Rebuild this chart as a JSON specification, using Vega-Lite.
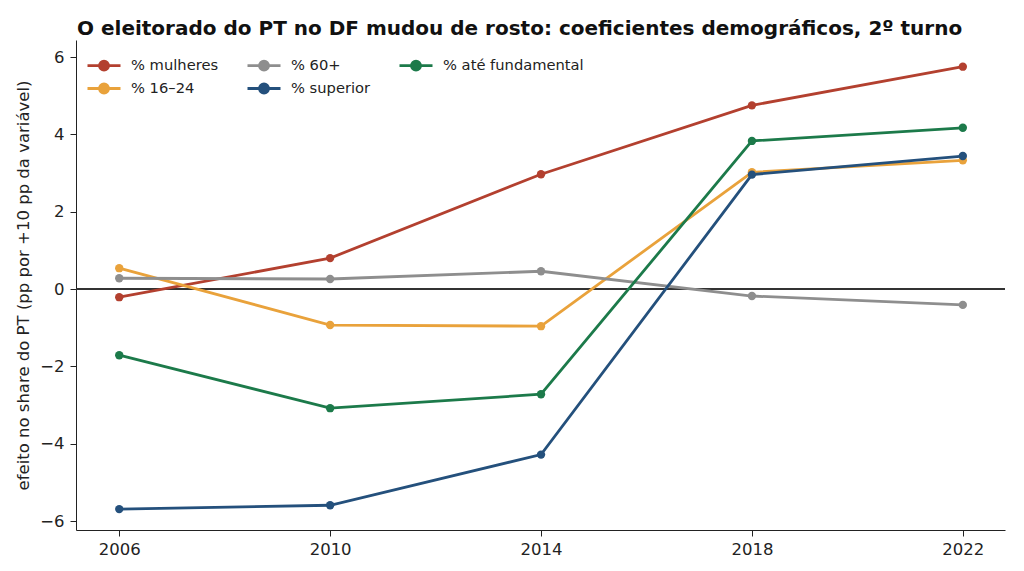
{
  "$schema": "https://vega.github.io/schema/vega-lite/v6.json",
  "autosize": "none",
  "width": 929,
  "height": 490,
  "padding": {"left": 76, "top": 40, "right": 19, "bottom": 41},
  "background": "white",
  "title": {
    "text": "O eleitorado do PT no DF mudou de rosto: coeficientes demográficos, 2º turno",
    "font": "DejaVu Sans",
    "fontSize": 20,
    "fontWeight": "bold",
    "color": "#111",
    "anchor": "start",
    "frame": "group",
    "dx": 1,
    "offset": 1
  },
  "config": {
    "view": {"stroke": null},
    "font": "DejaVu Sans",
    "axis": {
      "labelFont": "DejaVu Sans",
      "titleFont": "DejaVu Sans",
      "labelFontSize": 16.5,
      "titleFontSize": 16.5,
      "titleFontWeight": "normal",
      "labelColor": "#222",
      "titleColor": "#222",
      "domainColor": "#222",
      "tickColor": "#222",
      "tickSize": 6,
      "grid": false
    }
  },
  "data": {
    "values": [
      {"ano": 2006, "var": "% mulheres", "coef": -0.21},
      {"ano": 2010, "var": "% mulheres", "coef": 0.80},
      {"ano": 2014, "var": "% mulheres", "coef": 2.97},
      {"ano": 2018, "var": "% mulheres", "coef": 4.75},
      {"ano": 2022, "var": "% mulheres", "coef": 5.75},
      {"ano": 2006, "var": "% 16–24", "coef": 0.54},
      {"ano": 2010, "var": "% 16–24", "coef": -0.93},
      {"ano": 2014, "var": "% 16–24", "coef": -0.96},
      {"ano": 2018, "var": "% 16–24", "coef": 3.02},
      {"ano": 2022, "var": "% 16–24", "coef": 3.33},
      {"ano": 2006, "var": "% 60+", "coef": 0.28},
      {"ano": 2010, "var": "% 60+", "coef": 0.26},
      {"ano": 2014, "var": "% 60+", "coef": 0.46},
      {"ano": 2018, "var": "% 60+", "coef": -0.18},
      {"ano": 2022, "var": "% 60+", "coef": -0.41},
      {"ano": 2006, "var": "% até fundamental", "coef": -1.71},
      {"ano": 2010, "var": "% até fundamental", "coef": -3.08},
      {"ano": 2014, "var": "% até fundamental", "coef": -2.72},
      {"ano": 2018, "var": "% até fundamental", "coef": 3.83},
      {"ano": 2022, "var": "% até fundamental", "coef": 4.17},
      {"ano": 2006, "var": "% superior", "coef": -5.69},
      {"ano": 2010, "var": "% superior", "coef": -5.59},
      {"ano": 2014, "var": "% superior", "coef": -4.28},
      {"ano": 2018, "var": "% superior", "coef": 2.96},
      {"ano": 2022, "var": "% superior", "coef": 3.44}
    ]
  },
  "layer": [
    {
      "mark": {"type": "rule", "color": "#333", "strokeWidth": 1},
      "encoding": {"y": {"datum": 0, "type": "quantitative"}}
    },
    {
      "mark": {"type": "line", "strokeWidth": 2.8, "point": {"filled": true, "size": 70, "opacity": 1}},
      "encoding": {
        "x": {
          "field": "ano",
          "type": "quantitative",
          "scale": {"domain": [2005.18, 2022.8], "nice": false, "zero": false},
          "axis": {"values": [2006, 2010, 2014, 2018, 2022], "format": "d", "title": null, "labelPadding": 5}
        },
        "y": {
          "field": "coef",
          "type": "quantitative",
          "scale": {"domain": [-6.23, 6.44], "nice": false, "zero": false},
          "axis": {"values": [-6, -4, -2, 0, 2, 4, 6], "title": "efeito no share do PT (pp por +10 pp da variável)", "titlePadding": 8, "labelPadding": 6}
        },
        "color": {
          "field": "var",
          "type": "nominal",
          "scale": {
            "domain": ["% mulheres", "% 16–24", "% 60+", "% superior", "% até fundamental"],
            "range": ["#b3402f", "#e9a23b", "#8e8e8e", "#24507c", "#1c7a4a"]
          },
          "legend": {
            "title": null,
            "orient": "none",
            "legendX": 16.5,
            "legendY": 14,
            "columns": 3,
            "columnPadding": 23,
            "rowPadding": 1,
            "symbolType": "M-1.65,0L1.65,0M0.45,0A0.45,0.45,0,1,1,-0.45,0A0.45,0.45,0,1,1,0.45,0",
            "symbolSize": 400,
            "symbolStrokeWidth": 2.8,
            "labelFontSize": 14.7,
            "labelFont": "DejaVu Sans",
            "labelColor": "#222",
            "labelOffset": 15.5,
            "encode": {
              "symbols": {
                "update": {
                  "fill": {"scale": "color", "field": "value"},
                  "stroke": {"scale": "color", "field": "value"},
                  "opacity": {"value": 1}
                }
              }
            }
          }
        },
        "order": {"field": "ano"}
      }
    }
  ]
}
